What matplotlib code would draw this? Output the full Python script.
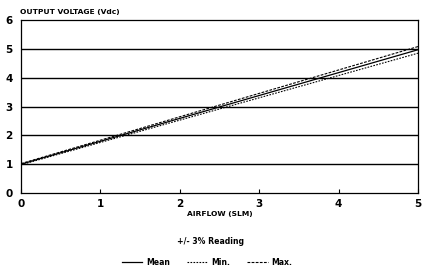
import matplotlib
matplotlib.use("Agg")
import matplotlib.pyplot as plt

# airflow (SLM) vs output voltage (Vdc)
airflow = [0, 5]
mean_v = [1.0, 4.97]
min_v = [0.98, 4.85]
max_v = [1.02, 5.08]

xticks = [0, 1, 2, 3, 4, 5]
yticks = [0, 1, 2, 3, 4, 5, 6]

plt.rcParams['font.family'] = 'DejaVu Sans'
plt.rcParams['font.weight'] = 'bold'

fig = plt.figure(figsize=(4.32, 2.69), dpi=100)
ax = fig.add_axes([0.0486, 0.2825, 0.919, 0.643])

for y in yticks[1:-1]:
    ax.axhline(y, color='black', lw=1.0, zorder=1)

ax.plot(airflow, mean_v, color='black', lw=0.9, label='Mean', zorder=3)
ax.plot(airflow, min_v, color='black', lw=0.8, ls=(0, (1.5, 1.2)), label='Min.', zorder=3)
ax.plot(airflow, max_v, color='black', lw=0.8, ls=(0, (2.5, 1.2)), label='Max.', zorder=3)

ax.set_xlim(0, 5)
ax.set_ylim(0, 6)
ax.set_xticks(xticks)
ax.set_yticks(yticks)
ax.tick_params(axis='x', direction='in', length=3, width=0.8, labelsize=7.5, pad=4)
ax.tick_params(axis='y', length=0, labelsize=7.5, pad=6)
for s in ax.spines.values():
    s.set_linewidth(0.9)

fig.text(0.047, 0.955, 'OUTPUT VOLTAGE (Vdc)', fontsize=5.4, fontweight='bold', ha='left', va='center')
fig.text(0.508, 0.205, 'AIRFLOW (SLM)', fontsize=5.4, fontweight='bold', ha='center', va='center')
fig.text(0.487, 0.103, '+/- 3% Reading', fontsize=5.6, fontweight='bold', ha='center', va='center')

fig.legend(loc='center', bbox_to_anchor=(0.48, 0.025), ncol=3, frameon=False,
           fontsize=5.6, handlelength=2.6, handletextpad=0.5, columnspacing=2.2)

fig.savefig('out.png', dpi=100)
